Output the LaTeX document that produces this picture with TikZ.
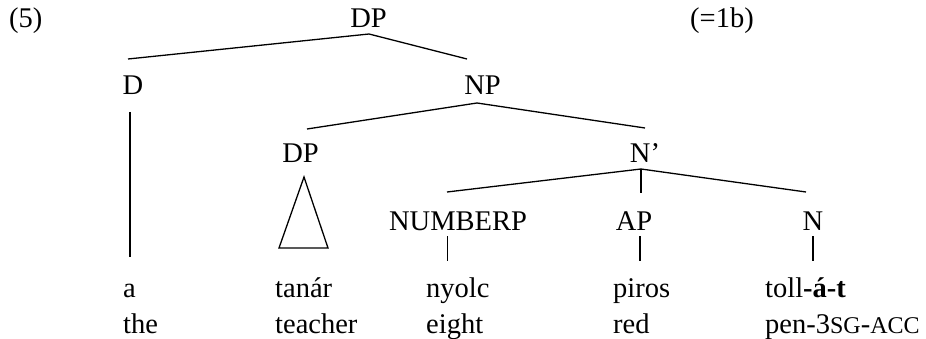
\documentclass[tikz,border=0pt]{standalone}
\usepackage{fontspec}
\setmainfont{Liberation Serif}
\newcommand{\smc}[1]{{\fontsize{24}{28}\selectfont #1}}
\begin{document}
\begin{tikzpicture}[x=1pt,y=-1pt,
  lbl/.style={inner sep=0pt,anchor=base,font=\fontsize{28.5}{34}\selectfont},
  word/.style={lbl,anchor=base west},
  branch/.style={line width=1.3pt,line cap=butt,line join=miter}]
\useasboundingbox (0,0) rectangle (926,339);

% example number and cross-reference
\node[word] (exnum) at (9,28) {(5)};
\node[word] (xref) at (690,28) {(=1b)};

% category labels
\node[lbl] (DPtop) at (368.5,28) {DP};
\node[lbl] (D)     at (133,95)   {D};
\node[lbl] (NP)    at (482.5,95) {NP};
\node[lbl] (DPpos) at (300.5,163) {DP};
\node[lbl] (Nbar)  at (645,163)  {N’};
\node[lbl] (NumP)  at (458,230)  {NUMBERP};
\node[lbl] (AP)    at (634,230)  {AP};
\node[lbl] (N)     at (813,230)  {N};

% terminal words and glosses
\node[word] (w1) at (123,297) {a};
\node[word] (g1) at (123,333) {the};
\node[word] (w2) at (275,297) {tanár};
\node[word] (g2) at (275,333) {teacher};
\node[word] (w3) at (426,297) {nyolc};
\node[word] (g3) at (426,333) {eight};
\node[word] (w4) at (613,297) {piros};
\node[word] (g4) at (613,333) {red};
\node[word] (w5) at (765,297) {toll\textbf{-á-t}};
\node[word] (g5) at (765,333) {pen-3\smc{SG}-\smc{ACC}};

% attachment points of the branches
\coordinate (DPtop-b) at (369,34);
\coordinate (D-t)     at (128,59);
\coordinate (NP-t)    at (467,59);
\coordinate (D-b)     at (130,112);
\coordinate (w1-t)    at (130,257);
\coordinate (NP-b)    at (477,103);
\coordinate (DPpos-t) at (307,129);
\coordinate (Nbar-t)  at (645,128);
\coordinate (tri-top) at (304,177);
\coordinate (tri-l)   at (279,248);
\coordinate (tri-r)   at (328,248);
\coordinate (Nbar-b)  at (641,169);
\coordinate (NumP-t)  at (447,192);
\coordinate (AP-t)    at (641,193);
\coordinate (N-t)     at (806,192);
\coordinate (NumP-b)  at (447.5,236);
\coordinate (w3-t)    at (447.5,261);
\coordinate (AP-b)    at (640,236);
\coordinate (w4-t)    at (640,261);
\coordinate (N-b)     at (813,236);
\coordinate (w5-t)    at (813,261);

% branches
\draw[branch] (D-t) -- (DPtop-b) -- (NP-t);
\draw[branch] (D-b) -- (w1-t);
\draw[branch] (DPpos-t) -- (NP-b) -- (Nbar-t);
\draw[branch] (tri-top) -- (tri-l) -- (tri-r) -- cycle;
\draw[branch] (NumP-t) -- (Nbar-b) -- (N-t);
\draw[branch] (Nbar-b) -- (AP-t);
\draw[branch] (NumP-b) -- (w3-t);
\draw[branch] (AP-b) -- (w4-t);
\draw[branch] (N-b) -- (w5-t);
\end{tikzpicture}
\end{document}
